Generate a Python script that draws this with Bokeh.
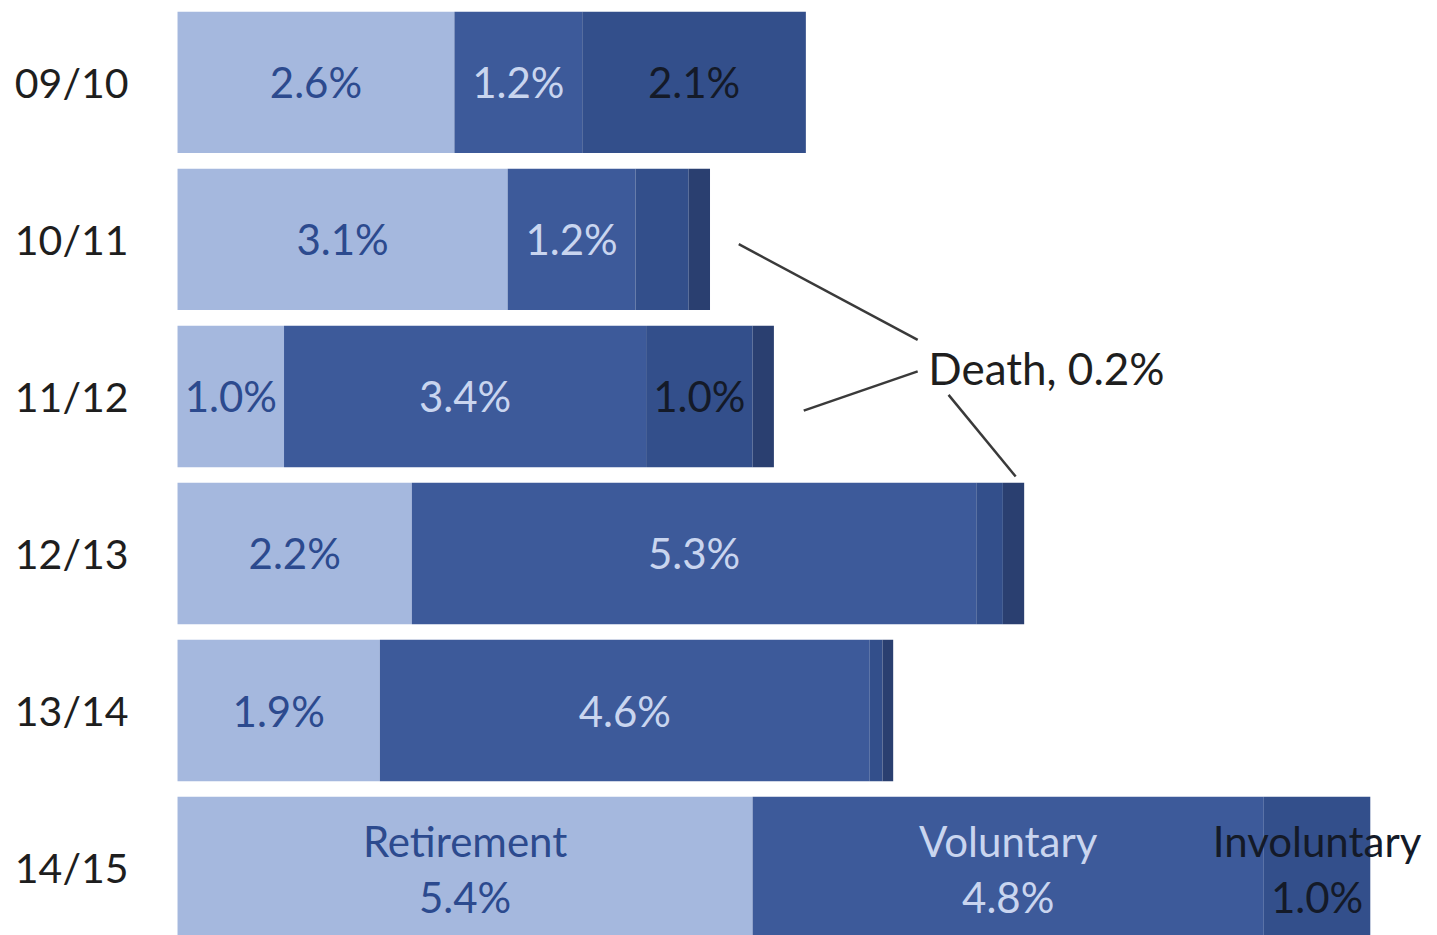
from bokeh.plotting import figure
from bokeh.models import Range1d, FixedTicker, ColumnDataSource
from bokeh.core.properties import value
from bokeh.embed import file_html
from bokeh.resources import INLINE

categories = ["09/10", "10/11", "11/12", "12/13", "13/14", "14/15"]
retirement = [2.6, 3.1, 1.0, 2.2, 1.9, 5.4]
voluntary = [1.2, 1.2, 3.4, 5.3, 4.6, 4.8]
involuntary = [2.1, 0.5, 1.0, 0.25, 0.12, 1.0]
death = [0.0, 0.2, 0.2, 0.2, 0.1, 0.0]

series_names = ["Retirement", "Voluntary", "Involuntary", "Death"]
series_values = [retirement, voluntary, involuntary, death]
fill_colors = ["#a5b8de", "#3d5a9a", "#334f8b", "#2a3f70"]
label_colors = ["#2c4a8e", "#c9d5ef", "#141a28", "#141a28"]
labelled_involuntary = [True, False, True, False, False, True]
death_label = "Death, 0.2%"

FONT = "Lato"
FS = "42px"

p = figure(width=1429, height=935, output_backend="svg", toolbar_location=None,
           x_range=Range1d(-0.066, 11.756), y_range=Range1d(5.433, -0.471),
           min_border_left=170, min_border_right=0, min_border_top=8, min_border_bottom=0,
           outline_line_color=None, background_fill_color="white", border_fill_color="white")
p.xaxis.visible = False
p.xgrid.visible = False
p.ygrid.visible = False

ys = list(range(len(categories)))
p.yaxis.ticker = FixedTicker(ticks=ys)
p.yaxis.major_label_overrides = {i: c for i, c in enumerate(categories)}
p.yaxis.axis_line_color = None
p.yaxis.major_tick_line_color = None
p.yaxis.minor_tick_line_color = None
p.yaxis.major_tick_in = 0
p.yaxis.major_tick_out = 0
p.yaxis.major_label_standoff = 42
p.yaxis.major_label_text_font = FONT
p.yaxis.major_label_text_font_size = "41px"
p.yaxis.major_label_text_color = "#1e1e1e"

left = [0.0] * len(categories)
for k, (name, vals) in enumerate(zip(series_names, series_values)):
    right = [l + v for l, v in zip(left, vals)]
    mid = [(l + r) / 2 for l, r in zip(left, right)]
    src = ColumnDataSource(dict(y=ys, left=left, right=right, mid=mid,
                                lab=[f"{v:.1f}%" for v in vals]))
    p.hbar(y="y", left="left", right="right", height=0.9, source=src,
           fill_color=fill_colors[k], line_color=None)
    single_idx = []
    for i in range(len(categories)):
        if name == "Death":
            continue
        if name == "Involuntary" and not labelled_involuntary[i]:
            continue
        single_idx.append(i)
    last = len(categories) - 1
    one = [i for i in single_idx if i != last]
    if one:
        s1 = ColumnDataSource(dict(x=[mid[i] for i in one], y=[ys[i] for i in one],
                                   t=[src.data["lab"][i] for i in one]))
        p.text(x="x", y="y", text="t", source=s1, text_align="center",
               text_baseline="middle", text_font=value(FONT), text_font_size=FS,
               text_color=label_colors[k], y_offset=0)
    if last in single_idx:
        s2 = ColumnDataSource(dict(x=[mid[last]], y=[ys[last]], n=[name],
                                   t=[src.data["lab"][last]]))
        p.text(x="x", y="y", text="n", source=s2, text_align="center",
               text_baseline="middle", text_font=value(FONT), text_font_size=FS,
               text_color=label_colors[k], y_offset=-27)
        p.text(x="x", y="y", text="t", source=s2, text_align="center",
               text_baseline="middle", text_font=value(FONT), text_font_size=FS,
               text_color=label_colors[k], y_offset=29)
    left = right

# Death annotation
totals = left
tx, ty = 7.05, 1.82
p.text(x=[tx], y=[ty], text=[death_label], text_align="left", text_baseline="middle",
       text_font=value(FONT), text_font_size="44px", text_color="#1e1e1e")
lines_x = [[totals[1] + 0.27, 6.95], [totals[2] + 0.28, 6.95], [7.24, totals[3] - 0.08]]
lines_y = [[1.03, 1.64], [2.09, 1.84], [1.99, 2.51]]
p.multi_line(xs=lines_x, ys=lines_y, line_color="#3a3a3a", line_width=2.5)

open("out.html", "w").write(file_html(p, INLINE))
